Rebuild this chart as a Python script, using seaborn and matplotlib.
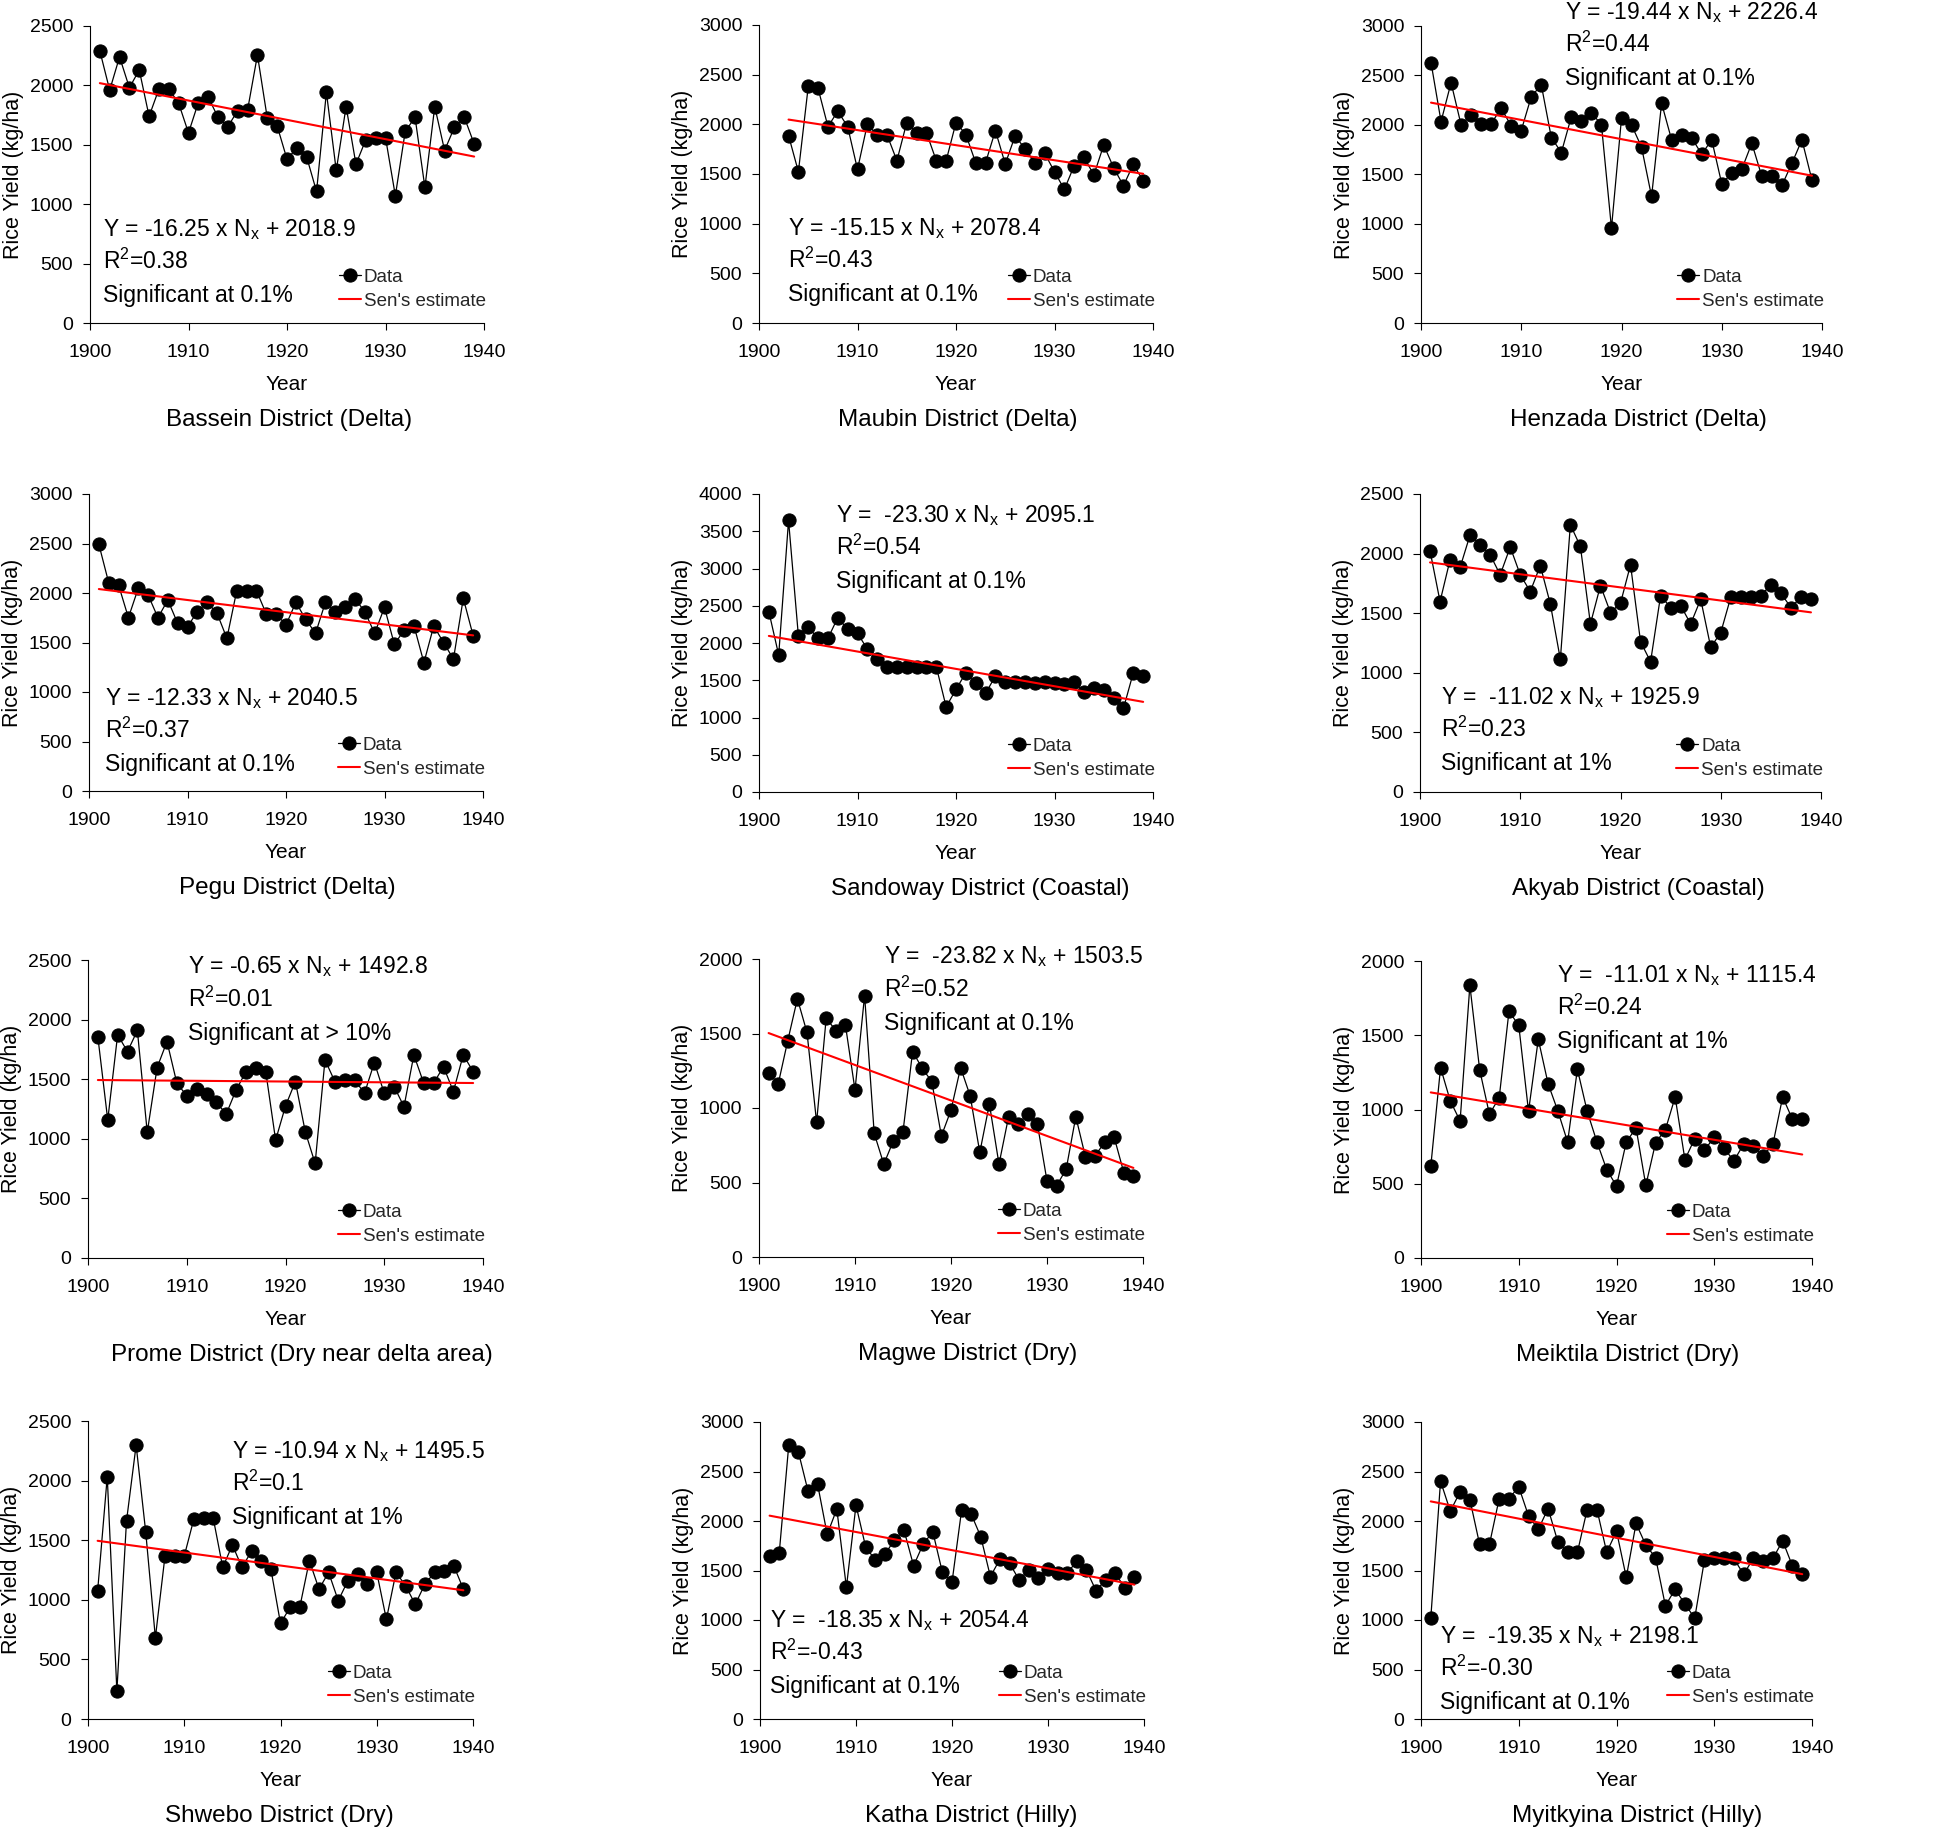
import matplotlib
matplotlib.use('Agg')
import matplotlib.pyplot as plt
import seaborn as sns

# Rice yield (kg/ha) per district
years = list(range(1901, 1940))
maubin_years = list(range(1903, 1940))

bassein = [2290, 1960, 2240, 1980, 2130, 1740, 1970, 1970, 1850, 1600,
           1856, 1900, 1732, 1654, 1788, 1794, 2256, 1724, 1659, 1379,
           1472, 1396, 1107, 1942, 1284, 1822, 1337, 1542, 1561, 1561,
           1071, 1612, 1732, 1141, 1822, 1452, 1648, 1732, 1508]
maubin = [1887, 1523, 2381, 2361, 1977, 2132, 1977, 1547, 2001, 1893,
          1893, 1634, 2018, 1917, 1917, 1634, 1634, 2018, 1897, 1614,
          1614, 1937, 1601, 1883, 1755, 1614, 1708, 1523, 1345, 1584,
          1668, 1490, 1792, 1564, 1382, 1597, 1433]
henzada = [2630, 2035, 2428, 2001, 2102, 2014, 2014, 2169, 1991, 1944,
           2287, 2405, 1873, 1722, 2085, 2045, 2125, 2001, 958, 2068,
           2001, 1776, 1278, 2220, 1850, 1903, 1870, 1705, 1850, 1406,
           1513, 1554, 1816, 1480, 1480, 1389, 1614, 1850, 1443]
pegu = [2492, 2104, 2081, 1751, 2047, 1980, 1751, 1929, 1694, 1660,
        1811, 1906, 1795, 1542, 2024, 2024, 2024, 1788, 1788, 1677,
        1906, 1734, 1593, 1906, 1811, 1855, 1943, 1811, 1593, 1855,
        1481, 1626, 1667, 1296, 1667, 1498, 1333, 1946, 1569]
sandoway = [2421, 1838, 3645, 2094, 2211, 2063, 2063, 2341, 2184, 2130,
            1919, 1780, 1681, 1681, 1681, 1681, 1681, 1681, 1143, 1377,
            1601, 1457, 1323, 1556, 1471, 1471, 1471, 1457, 1471, 1457,
            1444, 1471, 1345, 1399, 1368, 1256, 1121, 1601, 1556]
akyab = [2024, 1598, 1948, 1884, 2158, 2074, 1990, 1822, 2055, 1822,
         1682, 1900, 1578, 1113, 2242, 2060, 1410, 1732, 1505, 1584,
         1906, 1261, 1093, 1648, 1547, 1564, 1410, 1617, 1214, 1337,
         1634, 1634, 1634, 1648, 1738, 1668, 1547, 1634, 1617]
prome = [1853, 1158, 1872, 1732, 1909, 1054, 1598, 1816, 1466, 1362,
         1418, 1373, 1306, 1208, 1410, 1564, 1592, 1564, 989, 1275,
         1480, 1060, 793, 1662, 1480, 1494, 1494, 1382, 1640, 1382,
         1438, 1270, 1704, 1466, 1466, 1606, 1396, 1704, 1564]
magwe = [1238, 1161, 1453, 1733, 1507, 904, 1603, 1520, 1558, 1121,
         1755, 830, 623, 780, 841, 1379, 1267, 1177, 812, 986,
         1271, 1081, 702, 1027, 623, 942, 892, 960, 892, 511,
         478, 590, 942, 673, 679, 769, 803, 567, 545]
meiktila = [617, 1282, 1057, 923, 1836, 1268, 968, 1080, 1661, 1567,
            988, 1473, 1174, 990, 781, 1271, 988, 781, 595, 485,
            781, 876, 489, 777, 864, 1084, 662, 804, 725, 815,
            741, 653, 766, 752, 687, 766, 1084, 934, 934]
shwebo = [1074, 2033, 235, 1661, 2298, 1566, 682, 1367, 1367, 1367,
          1678, 1689, 1689, 1272, 1460, 1272, 1409, 1325, 1258, 802,
          937, 937, 1328, 1090, 1230, 993, 1160, 1216, 1132, 1230,
          836, 1230, 1118, 962, 1130, 1230, 1244, 1286, 1090]
katha = [1649, 1673, 2771, 2697, 2304, 2371, 1864, 2120, 1330, 2160,
         1740, 1606, 1663, 1807, 1908, 1548, 1767, 1891, 1481, 1381,
         2109, 2069, 1841, 1438, 1616, 1572, 1404, 1505, 1428, 1515,
         1471, 1471, 1596, 1505, 1297, 1404, 1471, 1327, 1438]
myitkyina = [1018, 2402, 2099, 2294, 2217, 1763, 1763, 2227, 2227, 2345,
             2052, 1915, 2126, 1790, 1683, 1683, 2116, 2116, 1683, 1898,
             1431, 1975, 1757, 1629, 1145, 1310, 1162, 1018, 1606, 1622,
             1622, 1622, 1461, 1622, 1599, 1622, 1800, 1545, 1461]

districts = ['Bassein District (Delta)', 'Maubin District (Delta)', 'Henzada District (Delta)',
             'Pegu District (Delta)', 'Sandoway District (Coastal)', 'Akyab District (Coastal)',
             'Prome District (Dry near delta area)', 'Magwe District (Dry)', 'Meiktila District (Dry)',
             'Shwebo District (Dry)', 'Katha District (Hilly)', 'Myitkyina District (Hilly)']
series = [bassein, maubin, henzada, pegu, sandoway, akyab,
          prome, magwe, meiktila, shwebo, katha, myitkyina]
series_years = [years, maubin_years] + [years] * 10
y_max = [2500, 3000, 3000, 3000, 4000, 2500, 2500, 2000, 2000, 2500, 3000, 3000]

# Sen's estimate line, value at the first and at the last year
trend_start = [2019, 2048, 2226, 2040, 2095, 1926, 1493, 1503, 1115, 1495, 2054, 2198]
trend_end = [1401, 1502, 1488, 1572, 1210, 1507, 1468, 598, 697, 1080, 1357, 1463]

equations = ['Y = -16.25 x N$_\\mathrm{x}$ + 2018.9', 'Y = -15.15 x N$_\\mathrm{x}$ + 2078.4',
             'Y = -19.44 x N$_\\mathrm{x}$ + 2226.4', 'Y = -12.33 x N$_\\mathrm{x}$ + 2040.5',
             'Y =  -23.30 x N$_\\mathrm{x}$ + 2095.1', 'Y =  -11.02 x N$_\\mathrm{x}$ + 1925.9',
             'Y = -0.65 x N$_\\mathrm{x}$ + 1492.8', 'Y =  -23.82 x N$_\\mathrm{x}$ + 1503.5',
             'Y =  -11.01 x N$_\\mathrm{x}$ + 1115.4', 'Y = -10.94 x N$_\\mathrm{x}$ + 1495.5',
             'Y =  -18.35 x N$_\\mathrm{x}$ + 2054.4', 'Y =  -19.35 x N$_\\mathrm{x}$ + 2198.1']
r2_values = ['0.38', '0.43', '0.44', '0.37', '0.54', '0.23',
             '0.01', '0.52', '0.24', '0.1', '-0.43', '-0.30']
significance = ['0.1%', '0.1%', '0.1%', '0.1%', '0.1%', '1%',
                '> 10%', '0.1%', '1%', '1%', '0.1%', '0.1%']

# layout: axes box in pixels (left, top, right, bottom)
boxes = [(90, 26, 484, 323), (759, 25, 1153, 323), (1421, 26, 1822, 323),
         (89, 494, 483, 791), (759, 494, 1153, 792), (1420, 494, 1821, 792),
         (88, 960, 483, 1258), (759, 959, 1143, 1257), (1421, 961, 1812, 1258),
         (88, 1421, 473, 1719), (760, 1422, 1144, 1719), (1421, 1422, 1812, 1719)]
text_x = [0.033, 0.074, 0.359, 0.041, 0.195, 0.052, 0.253, 0.326, 0.348, 0.375, 0.026, 0.049]
text_y = [0.293, 0.296, 1.024, 0.290, 0.906, 0.296, 0.955, 0.985, 0.928, 0.876, 0.310, 0.257]
title_x = [0.504, 0.504, 0.541, 0.504, 0.561, 0.544, 0.541, 0.543, 0.528, 0.496, 0.551, 0.554]

sns.set_theme(style='ticks')
plt.rcParams['font.family'] = ['Liberation Sans', 'DejaVu Sans']
plt.rcParams['mathtext.fontset'] = 'custom'
plt.rcParams['mathtext.rm'] = 'Liberation Sans'
plt.rcParams['mathtext.it'] = 'Liberation Sans:italic'
plt.rcParams['axes.unicode_minus'] = False

W, H = 1960, 1834
fig = plt.figure(figsize=(W / 100, H / 100), dpi=100)

for i in range(12):
    l, t, r, b = boxes[i]
    ax = fig.add_axes([l / W, (H - b) / H, (r - l) / W, (b - t) / H])

    sns.lineplot(x=series_years[i], y=series[i], ax=ax, color='black', linewidth=0.9,
                 marker='o', markersize=9.5, markeredgecolor='black', label='Data')
    sns.lineplot(x=[series_years[i][0], series_years[i][-1]], y=[trend_start[i], trend_end[i]],
                 ax=ax, color='#ff0000', linewidth=1.5, label="Sen's estimate")

    ax.set_xlim(1900, 1940)
    ax.set_ylim(0, y_max[i])
    ax.set_xticks(range(1900, 1941, 10))
    ax.set_yticks(range(0, y_max[i] + 1, 500))
    sns.despine(ax=ax)
    for side in ['left', 'bottom']:
        ax.spines[side].set_color('black')
        ax.spines[side].set_linewidth(0.8)
    ax.tick_params(axis='both', labelsize=14, colors='black', length=5, width=0.8)
    ax.tick_params(axis='y', pad=7)
    ax.tick_params(axis='x', pad=10)

    ax.set_xlabel('Year', fontsize=15, color='black')
    ax.xaxis.set_label_coords(0.5, -0.225)
    ax.xaxis.label.set_va('baseline')
    ax.set_ylabel('Rice Yield (kg/ha)', fontsize=15.5, color='black')
    ax.yaxis.set_label_coords(-66 / (r - l), 0.5)

    # equation, R2 and significance lines
    lines = [equations[i], 'R$^2$=' + r2_values[i], 'Significant at ' + significance[i]]
    for k, line in enumerate(lines):
        ax.text(text_x[i], text_y[i] - k * 0.111, line, transform=ax.transAxes,
                fontsize=16.5, va='baseline', ha='left', color='black')

    ax.text(title_x[i], -0.347, districts[i], transform=ax.transAxes,
            fontsize=17.5, va='baseline', ha='center', color='black')

    ax.legend(loc='lower right', bbox_to_anchor=(1.005, 0.045), frameon=False,
              fontsize=13.5, handlelength=1.2, handletextpad=0.15, labelspacing=0.35,
              borderpad=0, borderaxespad=0)

fig.savefig('out.png', dpi=100)
